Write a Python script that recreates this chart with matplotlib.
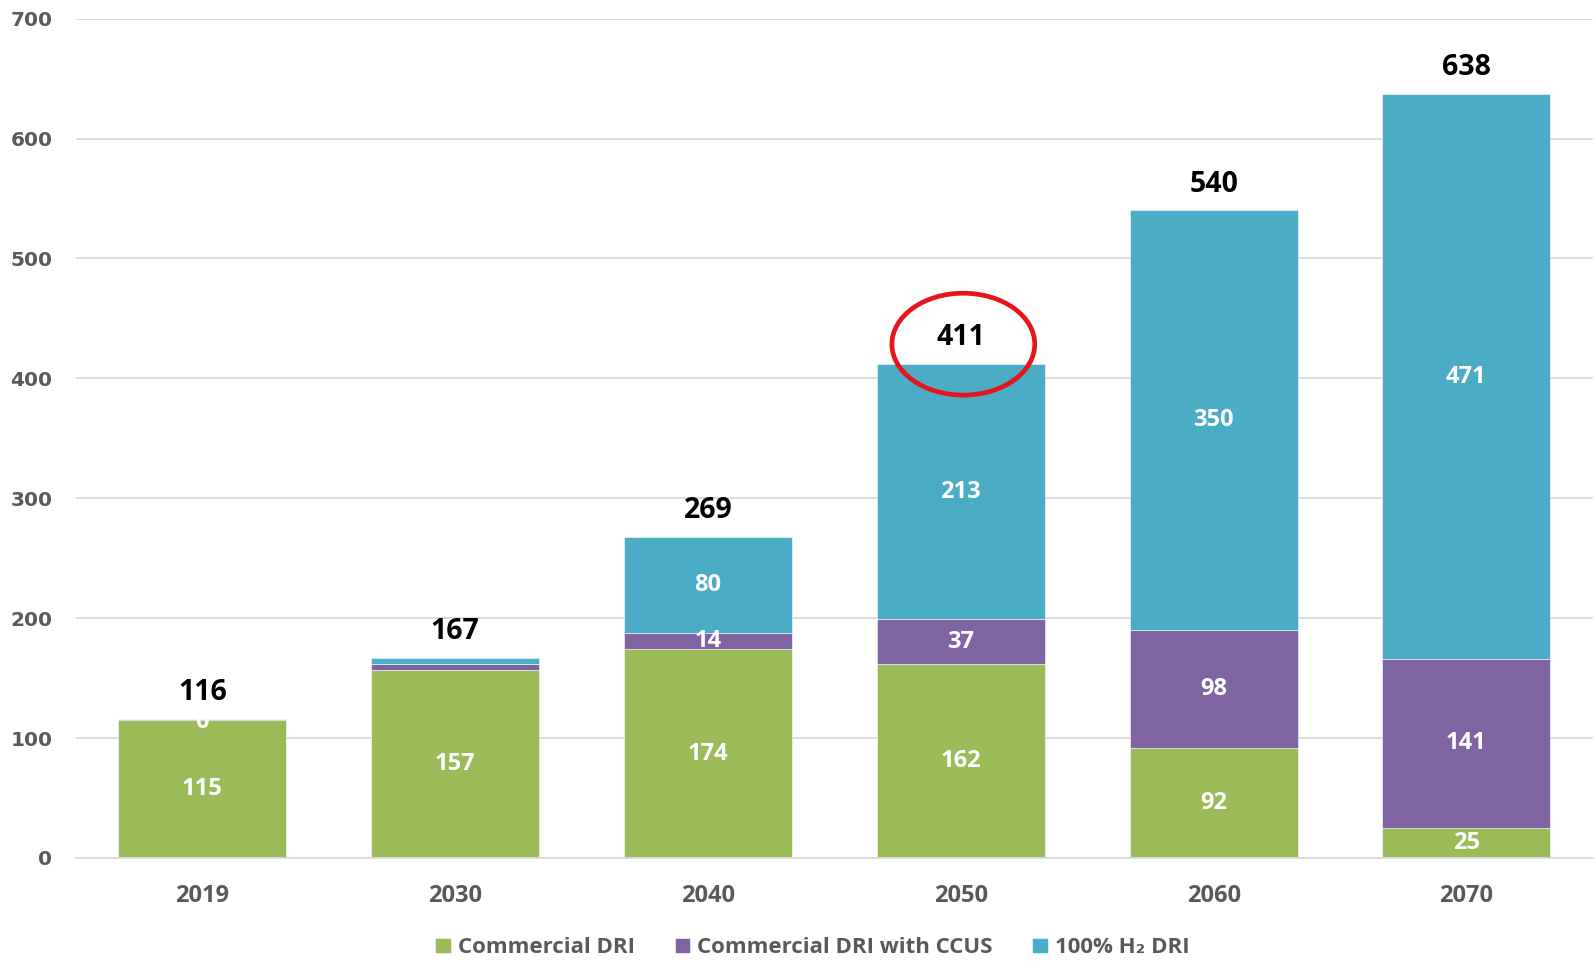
"""Stacked bar chart of DRI production by route."""
from matplotlib.patches import Ellipse
import matplotlib.pyplot as plt
import numpy as np

years = ['2019', '2030', '2040', '2050', '2060', '2070']
commercial_dri = [115, 157, 174, 162, 92, 25]
commercial_ccus = [1, 5, 14, 37, 98, 141]
h2_dri = [0, 5, 80, 213, 350, 471]
totals = [116, 167, 269, 411, 540, 638]

# labels printed inside the segments (None = not shown)
commercial_labels = ['115', '157', '174', '162', '92', '25']
ccus_labels = ['0', None, '14', '37', '98', '141']
h2_labels = [None, None, '80', '213', '350', '471']

series_names = ['Commercial DRI', 'Commercial DRI with CCUS', '100% H₂ DRI']
colors = ['#9BBB59', '#8064A2', '#4BACC6']

LABEL_FONT = ['Open Sans', 'DejaVu Sans']
GREY = '#595959'

fig = plt.figure(figsize=(15.96, 9.8), dpi=100)
ax = fig.add_axes([0.0476, 0.1245, 0.9504, 0.8565])

x = np.arange(len(years))
width = 0.665
bottom = np.zeros(len(years))
series = [commercial_dri, commercial_ccus, h2_dri]
labels = [commercial_labels, ccus_labels, h2_labels]
handles = []
for vals, labs, name, col in zip(series, labels, series_names, colors):
    vals = np.array(vals, dtype=float)
    bars = ax.bar(x, vals, width, bottom=bottom, color=col, label=name,
                  edgecolor='white', linewidth=0.4, zorder=2)
    handles.append(bars)
    for xi, b, v, lab in zip(x, bottom, vals, labs):
        if lab is None:
            continue
        yc = b + v / 2
        if v < 3:
            yc = b - 2
        ax.text(xi, yc, lab, ha='center', va='center', color='white',
                fontsize=17, fontweight='bold', family=LABEL_FONT, zorder=3)
    bottom = bottom + vals

for xi, tot, top in zip(x, totals, bottom):
    ax.annotate(str(tot), (xi, top), xytext=(0, 19), textcoords='offset points',
                ha='center', va='center', fontsize=20.5, fontweight='bold',
                family=LABEL_FONT, color='black')

# red highlight around the 2050 total
ax.add_patch(Ellipse((3.01, 428.5), 0.565, 85, facecolor='none',
                     edgecolor='#E8141B', linewidth=3.4, zorder=4))

ax.set_xlim(-0.5, len(years) - 0.5)
ax.set_ylim(0, 700)
ax.set_yticks(range(0, 701, 100))
ax.yaxis.grid(True, color='#D9D9D9', linewidth=1.3, zorder=0)
ax.set_axisbelow(True)
for s in ['top', 'right', 'left']:
    ax.spines[s].set_visible(False)
ax.spines['bottom'].set_color('#D9D9D9')
ax.spines['bottom'].set_linewidth(1.3)
ax.tick_params(axis='both', length=0)
ax.tick_params(axis='y', pad=17)
ax.tick_params(axis='x', pad=19)
ax.set_xticks(x)
ax.set_xticklabels(years)
for t in ax.get_yticklabels():
    t.set_fontfamily('DejaVu Sans')
    t.set_fontweight('bold')
    t.set_fontsize(14.5)
    t.set_color(GREY)
for t in ax.get_xticklabels():
    t.set_fontfamily(LABEL_FONT)
    t.set_fontweight('bold')
    t.set_fontsize(17)
    t.set_color(GREY)

leg = fig.legend(handles=handles, loc='center', bbox_to_anchor=(0.509, 0.033),
                 ncol=3, frameon=False, handlelength=0.7, handleheight=0.7,
                 handletextpad=0.3, columnspacing=1.8,
                 prop={'family': LABEL_FONT, 'weight': 'bold', 'size': 16})
for t in leg.get_texts():
    t.set_color(GREY)

fig.savefig('out.png', dpi=100)
